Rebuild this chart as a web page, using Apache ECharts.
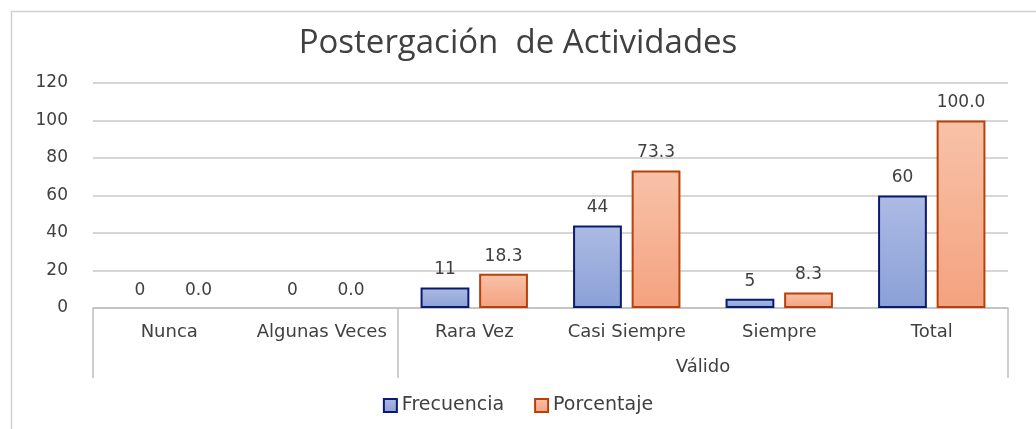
<!DOCTYPE html>
<html>
<head>
<meta charset="utf-8">
<script src="https://cdn.jsdelivr.net/npm/echarts@6/dist/echarts.min.js"></script>
<style>
  html, body { margin: 0; padding: 0; background: #ffffff; }
  #chart { width: 1036px; height: 429px; }
</style>
</head>
<body>
<div id="chart"></div>
<script>
const titleText = 'Postergación  de Actividades';
const categories = ['Nunca', 'Algunas Veces', 'Rara Vez', 'Casi Siempre', 'Siempre', 'Total'];
const frecuencia = [0, 0, 11, 44, 5, 60];
const porcentaje = [0.0, 0.0, 18.3, 73.3, 8.3, 100.0];
const groupLabel = 'Válido';
const groupBounds = [0, 2, 6];   // category-index boundaries of the outer axis level
const groupCenter = [4];         // centre of the "Válido" group
const seriesNames = ['Frecuencia', 'Porcentaje'];

const chart = echarts.init(document.getElementById('chart'));
const txt = '#404040';
const wide = '"DejaVu Sans", Verdana, sans-serif';
const titleFont = '"Open Sans", sans-serif';

function grad(top, bottom) {
  return new echarts.graphic.LinearGradient(0, 0, 0, 1, [
    { offset: 0, color: top }, { offset: 1, color: bottom }
  ]);
}
// zero-height bars show no outline, as in the source chart
function items(values, borderColor) {
  return values.map(v => ({
    value: v,
    itemStyle: { borderWidth: v === 0 ? 0 : 2, borderColor: borderColor }
  }));
}

chart.setOption({
  animation: false,
  backgroundColor: '#ffffff',
  graphic: [{
    type: 'rect', left: 9, top: 9,
    shape: { width: 1100, height: 500 },
    style: { fill: 'none', stroke: '#d0d0d0', lineWidth: 1.5 },
    z: -1
  }],
  title: {
    text: titleText,
    left: 'center', top: 22,
    textStyle: { fontFamily: titleFont, fontSize: 33, fontWeight: 'normal', color: txt }
  },
  legend: {
    data: seriesNames,
    icon: 'rect',
    bottom: 9, left: 'center',
    itemWidth: 13, itemHeight: 13, itemGap: 30,
    textStyle: { fontFamily: wide, fontSize: 19, color: txt }
  },
  grid: { left: 93, right: 28, top: 83, bottom: 121, containLabel: false },
  xAxis: [{
    type: 'category',
    data: categories,
    axisLine: { show: true, lineStyle: { color: '#bfbfbf', width: 1.5 } },
    axisTick: { show: false },
    axisLabel: { interval: 0, margin: 15, fontFamily: wide, fontSize: 18, color: txt }
  }, {
    type: 'value',
    position: 'bottom',
    min: 0, max: 6,
    axisLine: { show: false },
    splitLine: { show: false },
    axisTick: { show: true, customValues: groupBounds, length: 70, inside: false,
                lineStyle: { color: '#bfbfbf', width: 1.5 } },
    axisLabel: { show: true, customValues: groupCenter, margin: 50,
                 formatter: () => groupLabel,
                 fontFamily: wide, fontSize: 18, color: txt }
  }],
  yAxis: {
    type: 'value',
    min: 0, max: 120, interval: 20,
    axisLine: { show: false },
    axisTick: { show: false },
    splitLine: { lineStyle: { color: '#c8c8c8', width: 1.5 } },
    axisLabel: { margin: 25, fontFamily: wide, fontSize: 17, color: txt }
  },
  series: [{
    name: seriesNames[0],
    type: 'bar',
    data: items(frecuencia, '#0c1a6e'),
    barWidth: '32%',
    barGap: '20%',
    itemStyle: { color: grad('#adbbe4', '#8aa0d6'), borderColor: '#0c1a6e', borderWidth: 2 },
    label: { show: true, position: 'top', distance: 9,
             fontFamily: wide, fontSize: 17, color: txt,
             formatter: p => String(p.value) }
  }, {
    name: seriesNames[1],
    type: 'bar',
    data: items(porcentaje, '#b8410a'),
    barWidth: '32%',
    itemStyle: { color: grad('#f8c2a8', '#f4a27f'), borderColor: '#b8410a', borderWidth: 2 },
    label: { show: true, position: 'top', distance: 9,
             fontFamily: wide, fontSize: 17, color: txt,
             formatter: p => Number(p.value).toFixed(1) }
  }]
});
</script>
</body>
</html>
